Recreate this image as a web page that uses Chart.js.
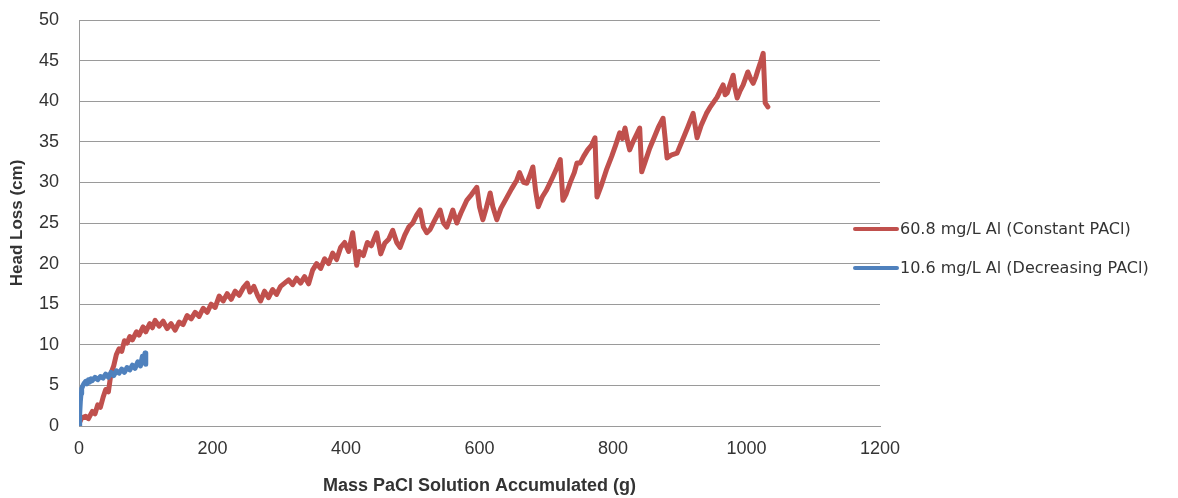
<!DOCTYPE html>
<html lang="en">
<head>
    <meta charset="UTF-8">
    <title>Head Loss vs Mass PaCl</title>
    <script src="https://cdn.jsdelivr.net/npm/chart.js"></script>
    <style>
        html, body { margin: 0; padding: 0; background: #ffffff; }
        #wrap { width: 1178px; height: 498px; }
    </style>
</head>
<body>
    <div id="wrap"><canvas id="chart" width="1178" height="498"></canvas></div>

    <script>
        // series labels
        const seriesLabels = ['60.8 mg/L Al (Constant PACl)', '10.6 mg/L Al (Decreasing PACl)'];

        // 60.8 mg/L Al
        const redX = [0, 4, 10, 14, 20, 24, 28, 32, 36, 40, 44, 48, 52, 56, 60, 64, 68, 72, 76, 80,
            86, 90, 96, 100, 106, 110, 114, 120, 126, 132, 138, 144, 150, 156, 162, 168, 174, 180, 186, 192,
            198, 204, 210, 216, 222, 228, 234, 240, 246, 252, 256, 262, 268, 272, 278, 284, 290, 296, 302, 308,
            314, 320, 326, 332, 338, 344, 350, 356, 362, 368, 374, 380, 386, 392, 398, 404, 410, 416, 420, 426,
            432, 438, 446, 452, 458, 464, 470, 476, 481, 488, 494, 500, 506, 511, 516, 521, 526, 532, 541, 546,
            551, 556, 560, 566, 572, 581, 588, 596, 600, 605, 610, 616, 620, 626, 632, 640, 648, 656, 660, 666,
            671, 676, 680, 684, 688, 694, 700, 706, 710, 716, 721, 725, 730, 736, 742, 746, 751, 756, 762, 768,
            773, 776, 782, 790, 798, 804, 810, 814, 818, 822, 825, 830, 836, 840, 843, 848, 855, 862, 868, 875,
            878, 881, 888, 896, 904, 912, 920, 923, 926, 932, 940, 945, 950, 956, 960, 965, 968, 971, 976, 980,
            983, 986, 990, 995, 1002, 1006, 1010, 1014, 1017, 1021, 1025, 1027, 1028, 1032];
        const redY = [0.3, 1.0, 1.2, 0.9, 1.8, 1.5, 2.6, 2.3, 3.5, 4.5, 4.2, 6.5, 7.4, 8.8, 9.5, 9.2, 10.5, 10.2, 11.0, 10.6,
            11.6, 11.2, 12.2, 11.6, 12.6, 12.1, 13.0, 12.3, 12.9, 12.0, 12.6, 11.8, 12.8, 12.5, 13.6, 13.2, 14.0, 13.5, 14.5, 14.0,
            15.0, 14.6, 16.0, 15.4, 16.3, 15.6, 16.6, 16.1, 17.0, 17.6, 16.5, 17.2, 16.0, 15.4, 16.6, 15.8, 16.8, 16.2, 17.2, 17.6,
            18.0, 17.4, 18.2, 17.6, 18.4, 17.5, 19.2, 20.0, 19.4, 20.6, 20.0, 21.3, 20.5, 22.0, 22.6, 21.5, 23.8, 19.8, 21.5, 21.0,
            22.6, 22.2, 23.8, 21.2, 22.5, 23.0, 24.1, 22.6, 22.0, 23.5, 24.5, 25.0, 26.0, 26.6, 24.5, 23.8, 24.2, 25.2, 26.6, 25.0,
            24.5, 25.6, 26.6, 25.0, 26.2, 27.8, 28.5, 29.4, 27.0, 25.4, 26.8, 28.7, 27.0, 25.4, 26.8, 28.0, 29.2, 30.3, 31.2, 30.0,
            29.9, 31.0, 31.9, 29.0, 27.0, 28.2, 29.0, 30.0, 30.7, 31.8, 32.8, 27.8, 28.6, 30.0, 31.2, 32.4, 32.4, 33.2, 34.0, 34.6,
            35.5, 28.2, 29.5, 31.5, 33.2, 34.6, 36.1, 35.4, 36.7, 35.0, 34.0, 35.0, 36.0, 36.7, 31.3, 32.5, 34.2, 35.6, 36.8, 37.9,
            35.5, 33.0, 33.4, 33.6, 35.2, 36.8, 38.5, 37.0, 35.5, 37.0, 38.5, 39.2, 39.8, 40.5, 41.2, 42.0, 40.8, 41.0, 42.2, 43.2,
            41.5, 40.4, 41.2, 42.0, 43.6, 42.8, 42.2, 43.0, 43.8, 44.8, 45.9, 42.0, 39.8, 39.3];

        // 10.6 mg/L Al
        const blueX = [0, 1, 2, 3, 4, 6, 8, 10, 12, 14, 16, 18, 20, 24, 28, 32, 36, 40, 44, 48,
            52, 56, 60, 64, 68, 72, 76, 80, 84, 88, 92, 95, 97, 99, 100];
        const blueY = [0, 1.5, 3.0, 4.0, 4.6, 5.0, 5.3, 5.5, 5.2, 5.7, 5.4, 5.8, 5.6, 6.0, 5.7, 6.1, 5.9, 6.4, 6.0, 6.6,
            6.2, 6.8, 6.5, 7.0, 6.6, 7.2, 6.9, 7.5, 7.1, 7.9, 7.4, 8.6, 7.8, 9.0, 7.6];

        const xMin = 0, xMax = 1200, xStep = 200;
        const yMin = 0, yMax = 50, yStep = 5;

        const xTitle = 'Mass PaCl Solution Accumulated (g)';
        const yTitle = 'Head Loss (cm)';

        const RED = '#C0504D';
        const BLUE = '#4F81BD';
        const GRID = '#9a9a9a';
        const TEXT = '#333333';
        const FONT = '"Liberation Sans", Arial, sans-serif';

        function toPoints(xs, ys) {
            return xs.map((x, i) => ({ x: x, y: ys[i] }));
        }

        // legend drawn by hand to the right of the plot, like the Excel original
        const sideLegend = {
            id: 'sideLegend',
            afterDraw(chart) {
                const ctx = chart.ctx;
                const rows = [229, 268];
                ctx.save();
                chart.data.datasets.forEach((ds, i) => {
                    const y = rows[i];
                    ctx.strokeStyle = ds.borderColor;
                    ctx.lineWidth = 4;
                    ctx.lineCap = 'round';
                    ctx.beginPath();
                    ctx.moveTo(855, y);
                    ctx.lineTo(897, y);
                    ctx.stroke();
                    ctx.fillStyle = TEXT;
                    ctx.font = '16px "DejaVu Sans", sans-serif';
                    ctx.textBaseline = 'middle';
                    ctx.textAlign = 'left';
                    ctx.fillText(ds.label, 900, y + 1);
                });
                ctx.restore();
            }
        };

        new Chart(document.getElementById('chart').getContext('2d'), {
            type: 'scatter',
            data: {
                datasets: [
                    {
                        label: seriesLabels[0],
                        data: toPoints(redX, redY),
                        borderColor: RED,
                        backgroundColor: RED,
                        borderWidth: 5,
                        showLine: true,
                        pointRadius: 0,
                        borderJoinStyle: 'round',
                        borderCapStyle: 'round',
                        order: 1
                    },
                    {
                        label: seriesLabels[1],
                        data: toPoints(blueX, blueY),
                        borderColor: BLUE,
                        backgroundColor: BLUE,
                        borderWidth: 5,
                        showLine: true,
                        pointRadius: 0,
                        borderJoinStyle: 'round',
                        borderCapStyle: 'round',
                        order: 0
                    }
                ]
            },
            options: {
                responsive: false,
                animation: false,
                layout: { padding: { left: 0, top: 20, right: 298, bottom: 0 } },
                plugins: {
                    legend: { display: false },
                    tooltip: { enabled: false }
                },
                scales: {
                    x: {
                        type: 'linear',
                        min: xMin,
                        max: xMax,
                        ticks: {
                            stepSize: xStep,
                            padding: 12,
                            color: TEXT,
                            font: { family: FONT, size: 18 },
                            callback: (v) => String(v)
                        },
                        grid: { display: false, drawTicks: false },
                        border: { display: true, color: GRID, width: 1 },
                        title: {
                            display: true,
                            text: xTitle,
                            color: TEXT,
                            padding: { top: 0, bottom: 1 },
                            font: { family: FONT, size: 18, weight: 'bold' }
                        },
                        afterFit(scale) { scale.height = 72; }
                    },
                    y: {
                        type: 'linear',
                        min: yMin,
                        max: yMax,
                        ticks: {
                            stepSize: yStep,
                            padding: 20,
                            color: TEXT,
                            font: { family: FONT, size: 18 }
                        },
                        grid: { color: GRID, lineWidth: 1, drawTicks: false },
                        border: { display: true, color: GRID, width: 1 },
                        title: {
                            display: true,
                            text: yTitle,
                            color: TEXT,
                            padding: { top: 7, bottom: 0 },
                            font: { family: FONT, size: 17, weight: 'bold' }
                        },
                        // keep the plot top at the 50 gridline position of the original
                        afterFit(scale) { scale.width = 79; scale.paddingTop = 0; }
                    }
                }
            },
            plugins: [sideLegend]
        });
    </script>
</body>
</html>
